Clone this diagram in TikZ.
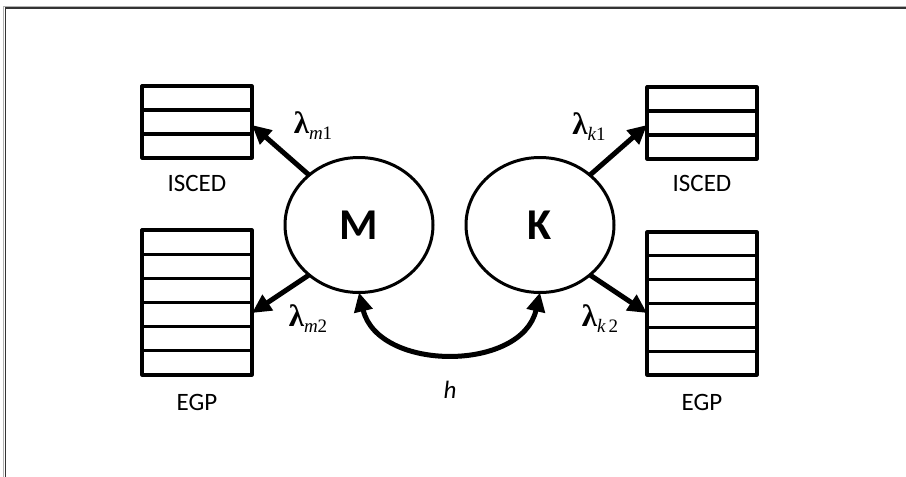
\documentclass[tikz,border=0pt]{standalone}
\usepackage{fontspec}
\setmainfont{Carlito}
\newfontfamily\lamfont{Liberation Serif}
\usetikzlibrary{arrows.meta,shapes.geometric,calc}
\newcommand\lamlab[2]{{\fontsize{31}{31}\selectfont\lamfont\bfseries λ}\raisebox{-6pt}{\fontsize{19}{19}\selectfont\lamfont\itshape #1\upshape #2}}
\begin{document}
\begin{tikzpicture}[x=1pt,y=-1pt,
  box/.style={draw=black,line width=3.2pt,rectangle,inner sep=0pt,outer sep=0pt,minimum width=110pt,line join=round},
  rowline/.style={line width=3.2pt},
  latent/.style={draw=black,line width=3pt,ellipse,minimum width=148pt,minimum height=135pt,inner sep=0pt,outer sep=0pt,font=\fontsize{44}{44}\selectfont\bfseries},
  lab/.style={font=\fontsize{25}{25}\selectfont,inner sep=0pt},
  arr/.style={line width=5pt,-{Triangle[length=19pt,width=18pt]}},
  harr/.style={line width=5pt,{Triangle[length=19pt,width=18pt]}-{Triangle[length=19pt,width=18pt]}},
  frame/.style={draw=black!80,line width=1.3pt}
]
\useasboundingbox (0,0) rectangle (906,477);
\draw[black!30,line width=1pt] (3.5,477) -- (3.5,6.5) -- (906,6.5);
\draw[frame] (5.5,477) -- (5.5,8) -- (906,8);

% boxes
\node[box,minimum height=72pt] (isced1) at (197,122) {};
\node[box,minimum height=145pt] (egp1) at (197,302.5) {};
\node[box,minimum height=72pt] (isced2) at (702,123) {};
\node[box,minimum height=143pt] (egp2) at (702,303.5) {};
\foreach \b in {isced1,isced2}
  \foreach \i in {1,2}
    \draw[rowline] ($(\b.north west)!\i/3!(\b.south west)$) -- ($(\b.north east)!\i/3!(\b.south east)$);
\foreach \b in {egp1,egp2}
  \foreach \i in {1,...,5}
    \draw[rowline] ($(\b.north west)!\i/6!(\b.south west)$) -- ($(\b.north east)!\i/6!(\b.south east)$);

\node[lab] (t1) at (197,183) {ISCED};
\node[lab] (t2) at (197,402) {EGP};
\node[lab] (t3) at (702,183) {ISCED};
\node[lab] (t4) at (702,402) {EGP};

% latent variables
\node[latent] (M) at (359,225) {M};
\node[latent] (K) at (540,225) {K};

% loadings
\draw[arr] (M.135) -- ([yshift=-3pt]isced1.east);
\draw[arr] (M.225) -- ([yshift=-10.5pt]egp1.east);
\draw[arr] (K.45) -- ([yshift=-2pt]isced2.west);
\draw[arr] (K.-45) -- ([yshift=-9.5pt]egp2.west);

\node[inner sep=0pt] (lm1) at (313,126) {\lamlab{m}{1}};
\node[inner sep=0pt] (lm2) at (308,319) {\lamlab{m}{2}};
\node[inner sep=0pt] (lk1) at (589,127) {\lamlab{k}{1}};
\node[inner sep=0pt] (lk2) at (600,319) {\lamlab{k\,}{2}};

% covariance
\draw[harr] (M.south) .. controls (378,372) and (522,372) .. (K.south);
\node[lab] (h) at (450,390) {\itshape h};
\end{tikzpicture}
\end{document}
